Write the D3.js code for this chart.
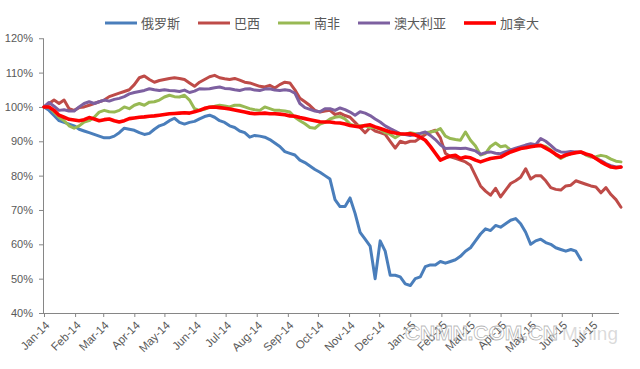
<!DOCTYPE html>
<html>
<head>
<meta charset="utf-8">
<script src="https://cdn.jsdelivr.net/npm/d3@7/dist/d3.min.js"></script>
<style>
  html, body { margin: 0; padding: 0; background: #fff; }
  svg { display: block; }
</style>
</head>
<body>
<svg id="chart" width="640" height="369"></svg>
<script>
// ---------------- DATA ----------------
const seriesNames = ["俄罗斯", "巴西", "南非", "澳大利亚", "加拿大"];

const dates = [
  "2014-01-01","2014-01-06","2014-01-11","2014-01-16","2014-01-21","2014-01-26","2014-01-31","2014-02-05","2014-02-10","2014-02-15",
  "2014-02-20","2014-02-25","2014-03-02","2014-03-07","2014-03-12","2014-03-17","2014-03-22","2014-03-27","2014-04-01","2014-04-06",
  "2014-04-11","2014-04-16","2014-04-21","2014-04-26","2014-05-01","2014-05-06","2014-05-11","2014-05-16","2014-05-21","2014-05-26",
  "2014-05-31","2014-06-05","2014-06-10","2014-06-15","2014-06-20","2014-06-25","2014-06-30","2014-07-05","2014-07-10","2014-07-15",
  "2014-07-20","2014-07-25","2014-07-30","2014-08-04","2014-08-09","2014-08-14","2014-08-19","2014-08-24","2014-08-29","2014-09-03",
  "2014-09-08","2014-09-13","2014-09-18","2014-09-23","2014-09-28","2014-10-03","2014-10-08","2014-10-13","2014-10-18","2014-10-23",
  "2014-10-28","2014-11-02","2014-11-07","2014-11-12","2014-11-17","2014-11-22","2014-11-27","2014-12-02","2014-12-07","2014-12-12",
  "2014-12-17","2014-12-22","2014-12-27","2015-01-01","2015-01-06","2015-01-11","2015-01-16","2015-01-21","2015-01-26","2015-01-31",
  "2015-02-05","2015-02-10","2015-02-15","2015-02-20","2015-02-25","2015-03-02","2015-03-07","2015-03-12","2015-03-17","2015-03-22",
  "2015-03-27","2015-04-01","2015-04-06","2015-04-11","2015-04-16","2015-04-21","2015-04-26","2015-05-01","2015-05-06","2015-05-11",
  "2015-05-16","2015-05-21","2015-05-26","2015-05-31","2015-06-05","2015-06-10","2015-06-15","2015-06-20","2015-06-25","2015-06-30",
  "2015-07-05","2015-07-10","2015-07-15","2015-07-20","2015-07-25","2015-07-30"
];

const russia = [
  100,99,97.5,96,95.5,95,94.5,93.5,93,92.5,
  92,91.5,91,91,91.5,92.5,93.8,93.5,93.2,92.5,
  92,92.3,93.5,94.5,95,96,96.7,95.5,95,95.5,
  95.8,96.5,97.2,97.6,97,96,95.5,94.5,94,93,
  92.5,91.2,91.7,91.5,91.2,90.5,89.5,88.5,87,86.5,
  86,84.5,83.8,82.8,81.8,81,80,79,73,71,
  71,73.5,69,63.5,61.5,59.5,50,61,58,51,
  51,50.5,48.5,48,50,50.5,53.5,54,54,55,
  54.5,55,55.5,56.5,58,59,61,63,64.5,64,
  65.5,65,66,67,67.5,66,63.5,60,61,61.5,
  60.5,60,59,58.5,58,58.5,58,55.5,null,null,
  null,null,null,null,null,null
];

const brazil = [
  100,101,102,101,102,99.5,99,99.8,100,100.5,
  101,101.5,102,103,103.5,104,104.5,105,106.5,108.5,
  109,108,107.2,107.7,108,108.3,108.5,108.3,108,107,
  106,107.2,108,108.8,109.2,108.5,108.2,108,108.3,107.8,
  107.2,107,106.5,106,105.8,106.3,105.5,106.5,107.2,107,
  105,102.5,101.5,100.4,99,98.5,98.8,99,97.8,98.2,
  97.5,97,95.5,94,92.5,94,93,92.5,92,90,
  88,90,89.5,90,90,91,92,92.7,93.2,91,
  86.5,85.5,85,84.5,84,83,80,77,75.5,74.3,
  76.3,73.8,75.8,77.7,78.5,79.5,82,79,80,80,
  78.5,76.5,76,75.8,77,77.2,78.5,78,77.5,77,
  76.7,75,76.5,74.5,73,70.8
];

const southAfrica = [
  100,100,98.5,97,96,94.5,93.8,94.5,95.6,96,
  97,98.5,99,98.6,98.5,99,100,99.5,100.5,101,
  100.5,101.4,101.5,102,102.9,103.4,103,102.9,103.4,102,
  99.5,99,99.3,100,100.2,100.5,100.3,100,100.5,100.5,
  100,99.5,99.2,99,100,99.5,99,99,98.8,98.5,
  97,96,95.1,94,93.8,95,95.5,96.5,97,97.2,
  96.5,95,94.5,94.5,94.5,94,94,93.5,92.5,92,
  91,92,92,92.5,92.2,92.3,92.5,92.7,93,93.7,
  91.5,90.8,90.5,90.3,92.7,90.3,88.6,86,86.5,88.5,
  89.5,88.4,88.7,87.4,87.8,88.3,88.5,88.8,89,88.8,
  88.5,87.5,86,85,85.8,86.4,86.7,86.9,86,85.4,
  85.5,85.9,85.6,84.8,84.2,84
];

const australia = [
  100,101.3,100.2,99,99.2,98.8,98.8,100,101,101.5,
  101,101.5,102,101.7,102.2,102.5,103,103.8,104.2,104.5,
  104.8,105.3,105,104.8,105,104.8,104.7,104.5,104.9,104.2,
  104.6,105.3,105.2,105.3,105.6,105.8,105.4,105.3,105,104.8,
  105.2,105.3,104.9,104.8,105.2,105.3,104.9,104.8,105,104.8,
  104,101,99.8,99.3,98.8,98.6,99.5,99.5,99,99.7,
  99.2,98.5,97.6,98.6,98.2,97.5,96.5,95.6,94.5,93.7,
  93,92.2,92,91.7,92,92.3,92.7,91.7,90.5,89,
  87.9,88,88,87.9,88,87.6,87.2,86.2,86.7,86.9,
  86.5,86.4,87,87.5,88,88.4,88.9,89.3,89,90.8,
  90,88.8,87.5,86.9,86.8,87,86.9,86.8,86.2,85.9,
  85,84.4,83.5,82.9,82.5,82.5
];

const canada = [
  100,100,99,97.6,97,96.4,96.2,96,96.3,96.9,
  96.5,96,96.3,96.5,96,95.6,96,96.6,96.8,97,
  97.1,97.3,97.4,97.6,97.8,98,98.1,98.2,98.3,98.2,
  98.6,99,99.6,99.9,100,99.8,99.6,99.4,99.1,98.8,
  98.5,98.2,98,98.1,98.2,98,98,97.9,97.7,97.4,
  97.3,96.9,96.6,96.3,96,95.7,95.6,95.6,95.4,95.3,
  95,94.6,94.4,94.2,94.6,94.8,94.2,93.7,93.2,92.7,
  92.4,92.2,92.1,92.2,91.8,91.2,90.3,88.5,86.5,84.5,
  85.2,85.7,85.9,85,85.4,85.2,84.5,84,84.5,85,
  85.2,85.4,86.2,86.9,87.4,87.9,88.1,88.4,88.6,88.8,
  88,87.2,86.2,85.4,86,86.4,86.7,86.9,86.3,85.9,
  85,84,83.2,82.5,82.3,82.5
];

const yTicks = [40, 50, 60, 70, 80, 90, 100, 110, 120];
const monthLabels = ["Jan-14","Feb-14","Mar-14","Apr-14","May-14","Jun-14","Jul-14","Aug-14","Sep-14","Oct-14",
  "Nov-14","Dec-14","Jan-15","Feb-15","Mar-15","Apr-15","May-15","Jun-15","Jul-15"];
const xDomain = ["2014-01-01", "2015-07-30"];

// ---------------- STYLE / LAYOUT ----------------
const colors = ["#4A7EBB", "#BE4B48", "#98B954", "#7D60A0", "#FF0000"];
const widths = [3, 3, 3, 3, 3.6];
const allSeries = [russia, brazil, southAfrica, australia, canada];

const svg = d3.select("#chart");
const parseDate = d3.timeParse("%Y-%m-%d");
const parseMonth = d3.timeParse("%b-%y");
const fmtMonth = d3.timeFormat("%b-%y");
const dateObjs = dates.map(parseDate);

const x = d3.scaleTime().domain(xDomain.map(parseDate)).range([44, 621]);
const y = d3.scaleLinear().domain([40, 120]).range([313, 38.25]);

const axisColor = "#868686";
const textColor = "#595959";

// Y axis
const gy = svg.append("g").attr("transform", "translate(43,0)")
  .call(d3.axisLeft(y).tickValues(yTicks).tickFormat(d => d + "%").tickSize(4).tickSizeOuter(0).tickPadding(6));
gy.select(".domain").attr("stroke", axisColor).attr("d", `M0.5,${y(120)}V${y(40)}`);
gy.selectAll(".tick line").attr("stroke", axisColor);
gy.selectAll("text").attr("fill", textColor).style("font-family", "'Liberation Sans', Arial, sans-serif").style("font-size", "11px");

// X axis
const gx = svg.append("g").attr("transform", "translate(0,313)")
  .call(d3.axisBottom(x).tickValues(monthLabels.map(parseMonth)).tickFormat(fmtMonth).tickSize(4).tickSizeOuter(0));
gx.select(".domain").attr("stroke", axisColor).attr("d", `M43,0.5H619`);
gx.selectAll(".tick line").attr("stroke", axisColor);
gx.selectAll("text")
  .attr("fill", textColor)
  .style("font-family", "'Liberation Sans', Arial, sans-serif")
  .style("font-size", "11.5px")
  .attr("x", 0).attr("y", 0).attr("dy", "0.35em")
  .attr("text-anchor", "end")
  .attr("transform", "translate(3,10) rotate(-45)");

// Lines
const line = d3.line()
  .defined(d => d != null)
  .x((d, i) => x(dateObjs[i]))
  .y(d => y(d));

allSeries.forEach((vals, k) => {
  svg.append("path")
    .datum(vals)
    .attr("fill", "none")
    .attr("stroke", colors[k])
    .attr("stroke-width", widths[k])
    .attr("stroke-linejoin", "round")
    .attr("stroke-linecap", "round")
    .attr("d", line);
});

// Legend
const legendX = [105, 198, 278, 358, 464];
const lg = svg.append("g");
seriesNames.forEach((name, k) => {
  lg.append("line")
    .attr("x1", legendX[k]).attr("x2", legendX[k] + 32)
    .attr("y1", 23).attr("y2", 23)
    .attr("stroke", colors[k]).attr("stroke-width", widths[k]);
  lg.append("text")
    .attr("x", legendX[k] + 36).attr("y", 23).attr("dy", "0.36em")
    .attr("fill", textColor)
    .style("font-family", "'Noto Sans CJK SC', sans-serif")
    .style("font-size", "13px")
    .text(name);
});

// Watermark
svg.append("text")
  .attr("x", 405).attr("y", 340)
  .attr("textLength", 153)
  .style("font-family", "'Liberation Sans', Arial, sans-serif")
  .style("font-size", "21px").style("font-weight", "bold")
  .attr("fill", "rgba(255,255,255,0.55)")
  .attr("stroke", "rgba(120,120,120,0.55)").attr("stroke-width", 0.8)
  .text("CNMN.COM.CN");
svg.append("text")
  .attr("x", 562).attr("y", 340)
  .style("font-family", "'Liberation Sans', Arial, sans-serif")
  .style("font-size", "19px")
  .attr("fill", "rgba(150,150,150,0.35)")
  .text("Mining");
</script>
</body>
</html>
